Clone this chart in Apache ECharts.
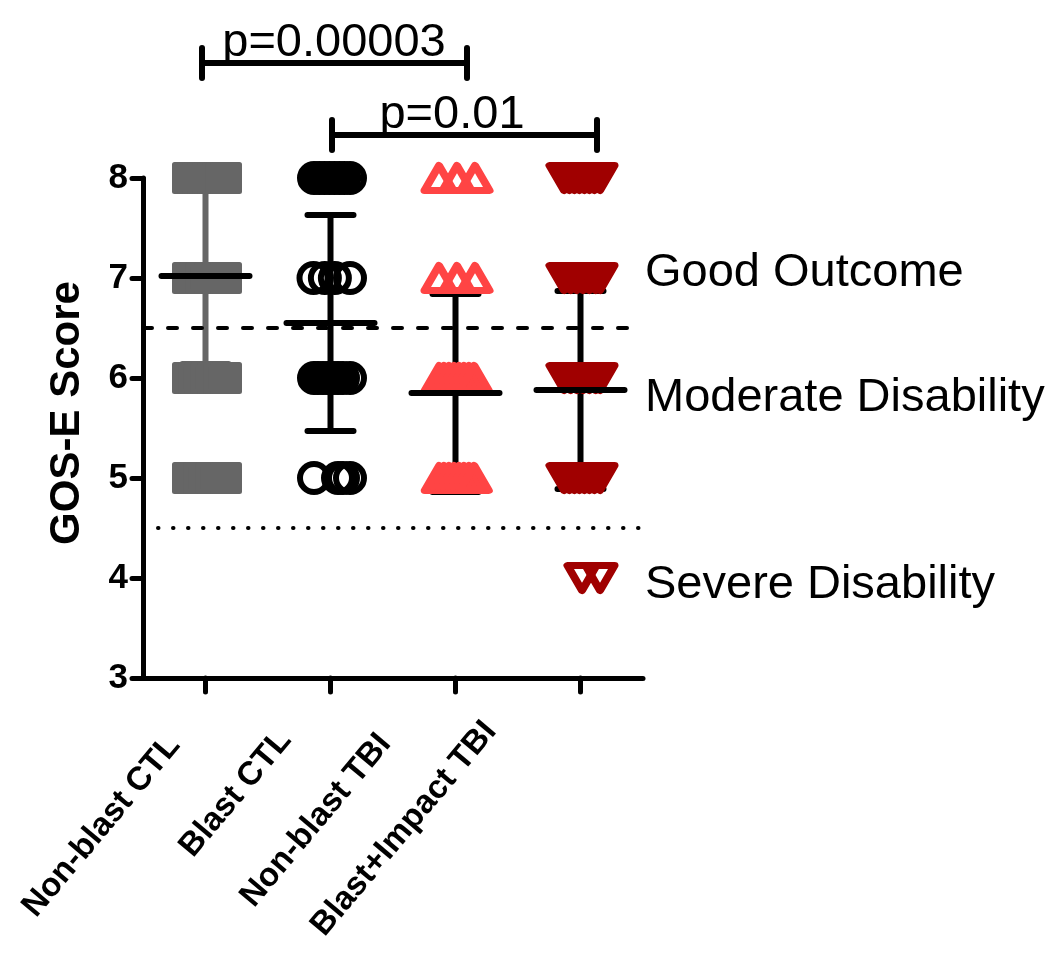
<!DOCTYPE html>
<html><head><meta charset="utf-8">
<script src="https://cdn.jsdelivr.net/npm/echarts@6/dist/echarts.min.js"></script>
<style>html,body{margin:0;padding:0;background:#fff}#c{width:1051px;height:955px}</style>
</head><body><div id="c"></div>
<script>
const categories = ['Non-blast CTL', 'Blast CTL', 'Non-blast TBI', 'Blast+Impact TBI'];
const yTicks = [3, 4, 5, 6, 7, 8];
const groupMeans = [7.02, 6.55, 5.85, 5.88];
const groupSDs = [0.88, 1.08, 0.99, 0.99];
// each point: [horizontal jitter (category units), GOS-E score]
const nonBlastCTL = [
  [-0.14,8],[-0.1,8],[-0.06,8],[-0.02,8],[0.02,8],[0.06,8],[0.1,8],[0.13,8],[0.164,8],
  [-0.14,7],[-0.08,7],[-0.03,7],[0.04,7],[0.1,7],[0.164,7],
  [-0.14,6],[-0.09,6],[-0.04,6],[0.01,6],[0.06,6],[0.11,6],[0.164,6],
  [-0.14,5],[-0.05,5],[0.05,5],[0.164,5]
];
const blastCTL = [
  [-0.132,8],[-0.09,8],[-0.05,8],[-0.01,8],[0.03,8],[0.07,8],[0.11,8],[0.156,8],
  [-0.136,7],[-0.045,7],[0.035,7],[0.156,7],
  [-0.132,6],[-0.1,6],[-0.06,6],[-0.02,6],[0.02,6],[0.06,6],[0.1,6],[0.156,6],
  [-0.132,5],[0.06,5],[0.1,5],[0.156,5]
];
const nonBlastTBI = [
  [-0.132,8],[0.012,8],[0.156,8],
  [-0.132,7],[0.012,7],[0.156,7],
  [-0.13,6],[-0.09,6],[-0.05,6],[-0.01,6],[0.03,6],[0.07,6],[0.11,6],[0.15,6],
  [-0.13,5],[-0.09,5],[-0.05,5],[-0.01,5],[0.03,5],[0.07,5],[0.11,5],[0.15,5]
];
const blastImpactTBI = [
  [-0.132,8],[-0.09,8],[-0.05,8],[-0.01,8],[0.03,8],[0.07,8],[0.11,8],[0.156,8],
  [-0.132,7],[-0.08,7],[-0.03,7],[0.02,7],[0.07,7],[0.12,7],[0.156,7],
  [-0.132,6],[-0.08,6],[-0.03,6],[0.02,6],[0.07,6],[0.12,6],[0.156,6],
  [-0.132,5],[-0.09,5],[-0.05,5],[-0.01,5],[0.03,5],[0.07,5],[0.11,5],[0.156,5],
  [0.012,4],[0.156,4]
];
const refLines = [6.5, 4.5];
const outcomeLabels = ['Good Outcome', 'Moderate Disability', 'Severe Disability'];
const outcomeLabelY = [7.05, 5.8, 3.93];
// [from x, to x, bracket height, label centre x]
const comparisons = [
  [-0.028, 2.092, 9.15, 1.028],
  [1.012, 3.132, 8.43, 1.972]
];
const comparisonLabels = ['p=0.00003', 'p=0.01'];

const FONT = '"Liberation Sans", Arial, Helvetica, sans-serif';
const errColors = ['#666666', '#000000', '#000000', '#000000'];
// per-label nudges of the rotated category labels: [back along text, up across text]
const labelNudge = [[37, 10], [42, 24], [61, 41], [64, 64]];
const toData = (pts, idx) => pts.map(p => [idx + p[0], p[1]]);

const rich = {};
labelNudge.forEach((n, i) => {
  rich['l' + i] = {
    fontSize: 33, fontWeight: 'bold', fontFamily: FONT, color: '#000',
    padding: [0, n[0], 2 * n[1], 0]
  };
});

const chart = echarts.init(document.getElementById('c'), null, {renderer: 'canvas'});
const blackLine = {stroke: '#000', lineWidth: 6, lineCap: 'round'};

chart.setOption({
  animation: false,
  backgroundColor: '#fff',
  grid: {left: 143, right: 408, top: 178, bottom: 277, containLabel: false},
  xAxis: {
    type: 'value', min: -0.5, max: 3.5,
    splitLine: {show: false},
    axisLine: {show: true, onZero: false, lineStyle: {color: '#000', width: 5}},
    axisTick: {show: true, customValues: [0, 1, 2, 3], length: 14, lineStyle: {color: '#000', width: 5, cap: 'round'}},
    axisLabel: {
      customValues: [0, 1, 2, 3],
      formatter: v => '{l' + Math.round(v) + '|' + categories[Math.round(v)] + '}',
      rich: rich,
      rotate: 50, margin: 40, color: '#000', fontSize: 33, fontWeight: 'bold', fontFamily: FONT
    }
  },
  yAxis: {
    type: 'value', min: yTicks[0], max: yTicks[yTicks.length - 1], interval: 1,
    splitLine: {show: false},
    axisLine: {show: true, onZero: false, lineStyle: {color: '#000', width: 5}},
    axisTick: {show: true, length: 11, lineStyle: {color: '#000', width: 5, cap: 'round'}},
    axisLabel: {margin: 15, color: '#000', fontSize: 35, fontWeight: 'bold', fontFamily: FONT},
    name: 'GOS-E Score', nameLocation: 'middle', nameRotate: 90, nameGap: 55,
    nameTextStyle: {color: '#000', fontSize: 42, fontWeight: 'bold', fontFamily: FONT, padding: [0, 0, 0, 30]}
  },
  series: [
    {
      type: 'custom', z: 1, clip: false,
      data: groupMeans.map((m, i) => [i, m, groupSDs[i]]),
      renderItem: (params, api) => {
        const x = api.value(0), m = api.value(1), s = api.value(2);
        const t = api.coord([x, m + s]), b = api.coord([x, m - s]);
        const st = {stroke: errColors[params.dataIndex], lineWidth: 6, lineCap: 'round'};
        return {type: 'group', children: [
          {type: 'line', shape: {x1: t[0], y1: t[1], x2: b[0], y2: b[1]}, style: st},
          {type: 'line', shape: {x1: t[0] - 23, y1: t[1], x2: t[0] + 23, y2: t[1]}, style: st},
          {type: 'line', shape: {x1: b[0] - 23, y1: b[1], x2: b[0] + 23, y2: b[1]}, style: st}
        ]};
      },
      markLine: {
        silent: true, symbol: 'none', label: {show: false},
        data: [
          {yAxis: refLines[0], lineStyle: {color: '#000', width: 4, type: [9, 16], cap: 'round'}},
          {yAxis: refLines[1], lineStyle: {color: '#000', width: 4, type: [0.5, 14.5], cap: 'round'}}
        ]
      }
    },
    {
      type: 'scatter', z: 2, data: toData(nonBlastCTL, 0),
      symbol: 'rect', symbolSize: 27,
      itemStyle: {color: '#666666', borderColor: '#666666', borderWidth: 5, borderJoin: 'round', opacity: 1}
    },
    {
      type: 'scatter', z: 2, data: toData(blastCTL, 1),
      symbol: 'circle', symbolSize: 28,
      itemStyle: {color: 'rgba(0,0,0,0)', borderColor: '#000', borderWidth: 6, opacity: 1}
    },
    {
      type: 'scatter', z: 2, data: toData(nonBlastTBI, 2),
      symbol: 'triangle', symbolSize: [29, 25],
      itemStyle: {color: 'rgba(0,0,0,0)', borderColor: '#ff4444', borderWidth: 7.5, borderJoin: 'round', opacity: 1}
    },
    {
      type: 'scatter', z: 2, data: toData(blastImpactTBI, 3),
      symbol: 'triangle', symbolSize: [29, 25], symbolRotate: 180,
      itemStyle: {color: 'rgba(0,0,0,0)', borderColor: '#a00000', borderWidth: 7.5, borderJoin: 'round', opacity: 1}
    },
    {
      type: 'custom', z: 3, clip: false,
      data: groupMeans.map((m, i) => [i, m]),
      renderItem: (params, api) => {
        const c = api.coord([api.value(0), api.value(1)]);
        return {type: 'line', shape: {x1: c[0] - 44, y1: c[1], x2: c[0] + 44, y2: c[1]}, style: blackLine};
      }
    },
    {
      type: 'custom', z: 4, clip: false,
      data: outcomeLabelY.map(y => [3.5, y]),
      renderItem: (params, api) => {
        const c = api.coord([api.value(0), api.value(1)]);
        return {type: 'text', x: c[0] + 2, y: c[1], style: {
          text: outcomeLabels[params.dataIndex], fill: '#000', font: '47px ' + FONT,
          textAlign: 'left', textVerticalAlign: 'middle'
        }};
      }
    },
    {
      type: 'custom', z: 4, clip: false,
      data: comparisons,
      renderItem: (params, api) => {
        const y = api.value(2);
        const a = api.coord([api.value(0), y]);
        const b = api.coord([api.value(1), y]);
        const t = api.coord([api.value(3), y]);
        return {type: 'group', children: [
          {type: 'line', shape: {x1: a[0], y1: a[1], x2: b[0], y2: b[1]}, style: blackLine},
          {type: 'line', shape: {x1: a[0], y1: a[1] - 15, x2: a[0], y2: a[1] + 15}, style: blackLine},
          {type: 'line', shape: {x1: b[0], y1: b[1] - 15, x2: b[0], y2: b[1] + 15}, style: blackLine},
          {type: 'text', x: t[0], y: t[1] + 4, style: {
            text: comparisonLabels[params.dataIndex], fill: '#000', font: '47px ' + FONT,
            textAlign: 'center', textVerticalAlign: 'bottom'
          }}
        ]};
      }
    }
  ]
});
</script></body></html>
